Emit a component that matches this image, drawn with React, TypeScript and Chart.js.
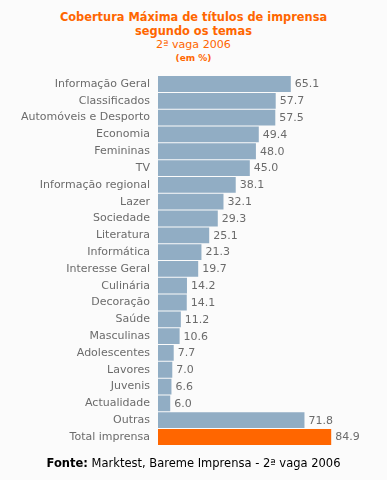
import React, { useEffect, useRef } from "react";
import { Chart, registerables } from "chart.js";

Chart.register(...registerables);

const categories = [
  "Informação Geral",
  "Classificados",
  "Automóveis e Desporto",
  "Economia",
  "Femininas",
  "TV",
  "Informação regional",
  "Lazer",
  "Sociedade",
  "Literatura",
  "Informática",
  "Interesse Geral",
  "Culinária",
  "Decoração",
  "Saúde",
  "Masculinas",
  "Adolescentes",
  "Lavores",
  "Juvenis",
  "Actualidade",
  "Outras",
  "Total imprensa",
];

const values = [
  65.1, 57.7, 57.5, 49.4, 48.0, 45.0, 38.1, 32.1, 29.3, 25.1, 21.3, 19.7, 14.2,
  14.1, 11.2, 10.6, 7.7, 7.0, 6.6, 6.0, 71.8, 84.9,
];

const titleLines = ["Cobertura Máxima de títulos de imprensa", "segundo os temas"];
const subtitleText = "2ª vaga 2006";
const unitText = "(em %)";
const sourceLabel = "Fonte:";
const sourceText = " Marktest, Bareme Imprensa - 2ª vaga 2006";

const FONT = "Verdana, 'DejaVu Sans', sans-serif";
const BAR = "#91adc4";
const TOTAL = "#ff6600";
const TEXT = "#6b6b6b";

const valueLabels = {
  id: "valueLabels",
  afterDatasetsDraw(chart: any) {
    const { ctx } = chart;
    const meta = chart.getDatasetMeta(0);
    ctx.save();
    ctx.font = `11px ${FONT}`;
    ctx.fillStyle = TEXT;
    ctx.textAlign = "left";
    ctx.textBaseline = "middle";
    meta.data.forEach((bar: any, i: number) => {
      ctx.fillText(values[i].toFixed(1), bar.x + 4, bar.y + 0.5);
    });
    ctx.restore();
  },
};

export default function App() {
  const ref = useRef<HTMLCanvasElement | null>(null);

  useEffect(() => {
    if (!ref.current) return;
    const chart = new Chart(ref.current, {
      type: "bar",
      data: {
        labels: categories,
        datasets: [
          {
            data: values,
            backgroundColor: categories.map((_, i) =>
              i === categories.length - 1 ? TOTAL : BAR
            ),
            barPercentage: 0.94,
            categoryPercentage: 1,
            borderWidth: 0,
          },
        ],
      },
      options: {
        indexAxis: "y",
        animation: false,
        responsive: false,
        maintainAspectRatio: false,
        layout: { padding: { left: 0, right: 25, top: 0, bottom: 0 } },
        plugins: {
          legend: { display: false },
          tooltip: { enabled: false },
          title: { display: false },
        },
        scales: {
          x: {
            display: false,
            min: 0,
            max: 100,
          },
          y: {
            grid: { display: false, drawTicks: false },
            border: { display: false },
            ticks: {
              color: TEXT,
              font: { family: FONT, size: 11 },
              padding: 8,
              autoSkip: false,
            },
            afterFit(scale: any) {
              scale.width = 158;
            },
          },
        },
      },
      plugins: [valueLabels],
    });
    return () => chart.destroy();
  }, []);

  return (
    <div
      style={{
        position: "absolute",
        left: 0,
        top: 0,
        width: 387,
        height: 480,
        background: "#fbfbfb",
        fontFamily: FONT,
      }}
    >
      <div
        style={{
          position: "absolute",
          top: 10,
          left: 0,
          width: 387,
          textAlign: "center",
          color: TOTAL,
        }}
      >
        {titleLines.map((t) => (
          <div key={t} style={{ fontWeight: "bold", fontSize: 11.4, lineHeight: "14px" }}>
            {t}
          </div>
        ))}
        <div style={{ fontSize: 11.1, lineHeight: "14px" }}>{subtitleText}</div>
        <div style={{ fontWeight: "bold", fontSize: 9, lineHeight: "12px" }}>{unitText}</div>
      </div>
      <canvas
        ref={ref}
        width={387}
        height={399}
        style={{ position: "absolute", left: 0, top: 61, width: 387, height: 399 }}
      />
      <div
        style={{
          position: "absolute",
          top: 456,
          left: 0,
          width: 387,
          textAlign: "center",
          fontSize: 11.5,
          lineHeight: "14px",
          color: "#000",
        }}
      >
        <b>{sourceLabel}</b>
        {sourceText}
      </div>
    </div>
  );
}
